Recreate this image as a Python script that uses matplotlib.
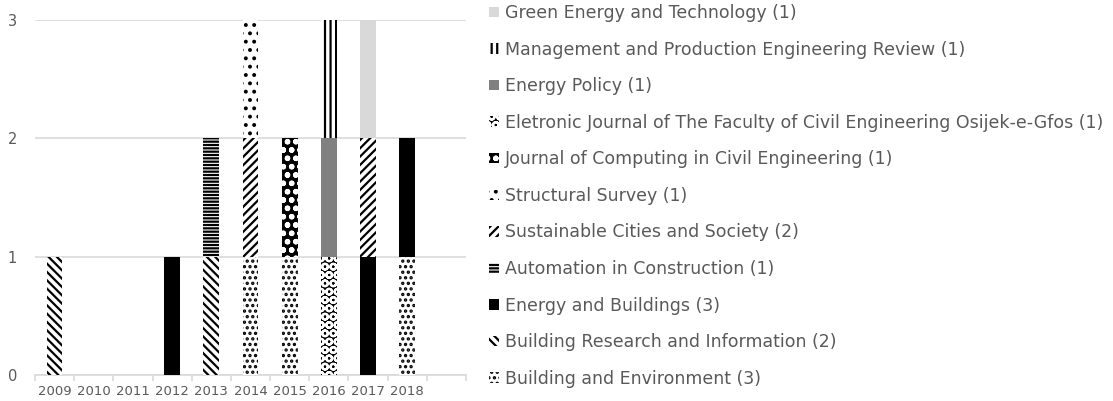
import matplotlib
matplotlib.use("Agg")
import matplotlib.pyplot as plt
import numpy as np

plt.rcParams['font.family'] = ['DejaVu Sans']
plt.rcParams['hatch.linewidth'] = 1.6

years = ["2009", "2010", "2011", "2012", "2013", "2014", "2015", "2016", "2017", "2018", ""]

series_names = [
    "Building and Environment (3)",
    "Building Research and Information (2)",
    "Energy and Buildings (3)",
    "Automation in Construction (1)",
    "Sustainable Cities and Society (2)",
    "Structural Survey (1)",
    "Journal of Computing in Civil Engineering (1)",
    "Eletronic Journal of The Faculty of Civil Engineering Osijek-e-Gfos (1)",
    "Energy Policy (1)",
    "Management and Production Engineering Review (1)",
    "Green Energy and Technology (1)",
]

building_env   = [0, 0, 0, 0, 0, 1, 1, 0, 0, 1, 0]
building_res   = [1, 0, 0, 0, 1, 0, 0, 0, 0, 0, 0]
energy_build   = [0, 0, 0, 1, 0, 0, 0, 0, 1, 1, 0]
automation     = [0, 0, 0, 0, 1, 0, 0, 0, 0, 0, 0]
sustainable    = [0, 0, 0, 0, 0, 1, 0, 0, 1, 0, 0]
structural     = [0, 0, 0, 0, 0, 1, 0, 0, 0, 0, 0]
computing      = [0, 0, 0, 0, 0, 0, 1, 0, 0, 0, 0]
eletronic      = [0, 0, 0, 0, 0, 0, 0, 1, 0, 0, 0]
energy_policy  = [0, 0, 0, 0, 0, 0, 0, 1, 0, 0, 0]
management     = [0, 0, 0, 0, 0, 0, 0, 1, 0, 0, 0]
green_energy   = [0, 0, 0, 0, 0, 0, 0, 0, 1, 0, 0]

series_values = [building_env, building_res, energy_build, automation, sustainable,
                 structural, computing, eletronic, energy_policy, management, green_energy]

# (facecolor, hatchcolor, hatch)
styles = [
    ("white", "black", "..."),
    ("white", "black", "\\\\\\\\"),
    ("black", "black", None),
    ("white", "black", "-----"),
    ("white", "black", "////"),
    ("white", "black", ".."),
    ("black", "white", "oo"),
    ("black", "white", "OO"),
    ("#808080", "#808080", None),
    ("white", "black", "|||"),
    ("#d9d9d9", "#d9d9d9", None),
]

fig = plt.figure(figsize=(11.13, 4.01), dpi=100)
ax = fig.add_axes([35/1113, 26/401, (466-35)/1113, (381-26)/401])

x = np.arange(len(years))
bottom = np.zeros(len(years))
handles = []
for name, vals, (fc, hc, h) in zip(series_names, series_values, styles):
    vals = np.array(vals, dtype=float)
    bars = ax.bar(x, vals, width=0.4, bottom=bottom, facecolor=fc,
                  edgecolor=hc, hatch=h, linewidth=0, label=name, zorder=3)
    handles.append(bars)
    bottom += vals

ax.set_xlim(-0.5, len(years) - 0.5)
ax.set_ylim(0, 3)
ax.set_yticks([0, 1, 2, 3])
ax.yaxis.grid(True, color="#d9d9d9", linewidth=1.2, zorder=0)
ax.set_axisbelow(True)
for s in ["top", "right", "left"]:
    ax.spines[s].set_visible(False)
ax.spines["bottom"].set_color("#d9d9d9")
ax.spines["bottom"].set_linewidth(1.2)
ax.tick_params(axis="y", length=0, labelcolor="#595959", labelsize=10.5, pad=13)
ax.set_xticks(x)
ax.set_xticklabels(years, color="#595959", fontsize=9.5)
ax.tick_params(axis="x", length=0, pad=7)
ax.set_xticks(np.arange(-0.5, len(years), 1.0), minor=True)
ax.tick_params(axis="x", which="minor", length=4, color="#d9d9d9", width=1.2)

leg = fig.legend(handles[::-1], series_names[::-1],
                 loc="upper left", bbox_to_anchor=(489/1113, 1.0 - 4/401),
                 frameon=False, fontsize=12.5, labelcolor="#595959",
                 handlelength=0.55, handleheight=0.55, handletextpad=0.35,
                 labelspacing=1.07, borderaxespad=0, borderpad=0)

fig.savefig("out.png", dpi=100, facecolor="white")
